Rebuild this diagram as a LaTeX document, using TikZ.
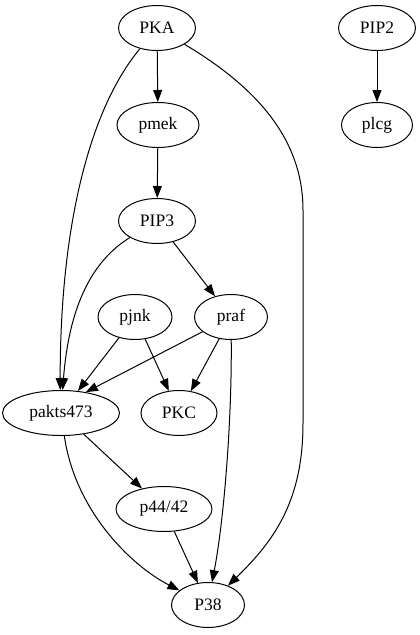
\documentclass[tikz,border=0pt]{standalone}
\usepackage{fontspec}
\setmainfont{Liberation Serif}
\usetikzlibrary{shapes.geometric,arrows.meta}
\begin{document}
\begin{tikzpicture}[x=1pt,y=-1pt,
  nd/.style={draw,line width=1pt,ellipse,inner sep=0pt,minimum height=45pt,font=\fontsize{17.5}{20}\selectfont},
  edge/.style={draw,line width=1pt,-{Triangle[length=12pt,width=9pt]}}]
\useasboundingbox (0,0) rectangle (420,635);
\node[nd,minimum width=77pt] (PKA) at (157,28) {PKA};
\node[nd,minimum width=77pt] (PIP2) at (377,28) {PIP2};
\node[nd,minimum width=82pt] (pmek) at (158,125) {pmek};
\node[nd,minimum width=71pt] (plcg) at (377,125) {plcg};
\node[nd,minimum width=77pt] (PIP3) at (157,221) {PIP3};
\node[nd,minimum width=74pt] (pjnk) at (135,317) {pjnk};
\node[nd,minimum width=73pt] (praf) at (231,317) {praf};
\node[nd,minimum width=117pt] (pakts) at (61,413) {pakts473};
\node[nd,minimum width=76pt] (PKC) at (179,413) {PKC};
\node[nd,minimum width=96pt] (p44) at (164,509) {p44/42};
\node[nd,minimum width=73pt] (P38) at (208,605) {P38};

\draw[edge] (PKA) -- (pmek);
\draw[edge] (PIP2) -- (plcg);
\draw[edge] (pmek) -- (PIP3);
\draw[edge] (PKA) .. controls (85,115) and (60,240) .. (pakts.92);
\draw[edge] (PKA) .. controls (270,95) and (303,150) .. (303,210) -- (303,423)
  .. controls (303,500) and (275,540) .. (P38);
\draw[edge] (PIP3) .. controls (85,265) and (68,320) .. (pakts.86);
\draw[edge] (PIP3) -- (praf);
\draw[edge] (pjnk) -- (pakts);
\draw[edge] (pjnk) -- (PKC);
\draw[edge] (praf) -- (pakts.40);
\draw[edge] (praf) -- (PKC);
\draw[edge] (praf) .. controls (232,420) and (224,520) .. (P38.80);
\draw[edge] (pakts) -- (p44);
\draw[edge] (pakts) .. controls (75,510) and (130,565) .. (P38);
\draw[edge] (p44) -- (P38);
\end{tikzpicture}
\end{document}
